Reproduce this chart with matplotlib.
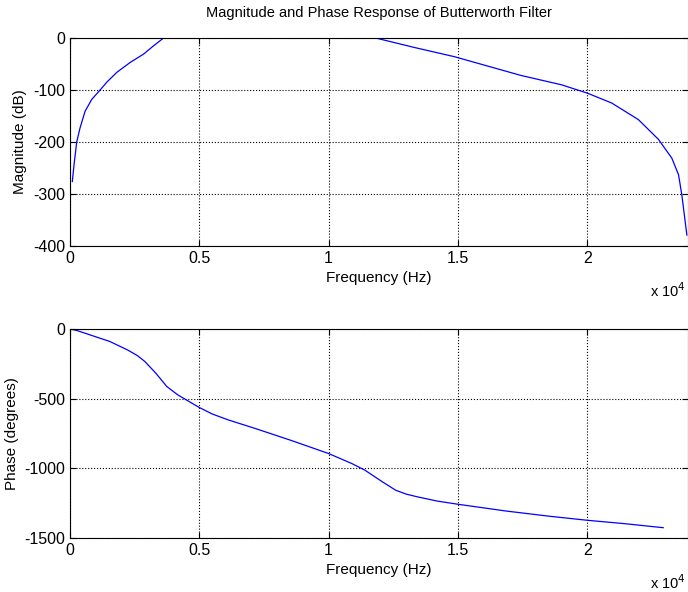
import numpy as np
import matplotlib
matplotlib.use("Agg")
import matplotlib.pyplot as plt
from matplotlib.ticker import FuncFormatter

plt.rcParams['font.family'] = ['Liberation Sans Narrow', 'Liberation Sans', 'DejaVu Sans']
plt.rcParams['axes.unicode_minus'] = False

# magnitude response (Hz, dB), values above 0 get clipped by the axis
mag_freq = [90, 155, 260, 388, 582, 842, 1164, 1423, 1811, 2327, 2844, 3232, 3620, 4200,
            11300, 11820, 13300, 14870, 17440, 19008, 20005, 20948, 21983, 22758,
            23274, 23534, 23662, 23856]
mag_db = [-276, -244, -200, -173, -141, -118, -100, -85, -66, -47, -31, -15, 0, 14,
          8, 0, -18, -36, -72, -90, -106, -125, -157, -195,
          -231, -263, -302, -379]

# phase response (Hz, degrees)
ph_freq = [0, 255, 900, 1532, 2212, 2600, 2893, 3319, 3744, 4170, 4987, 5500, 6127, 7148, 8510,
           9990, 10892, 11403, 12083, 12594, 13000, 13445, 14200, 15010, 16848, 18550,
           20014, 21443, 22941]
ph_deg = [0, -10, -50, -89, -149, -190, -233, -317, -413, -473, -562, -610, -653, -713, -797,
          -893, -965, -1013, -1097, -1157, -1185, -1205, -1235, -1258, -1306, -1344,
          -1373, -1397, -1426]

xticks = [0, 5000, 10000, 15000, 20000]
xfmt = FuncFormatter(lambda v, _: f'{v / 1e4:g}')

fig = plt.figure(figsize=(6.88, 5.92), dpi=100)
ax1 = fig.add_axes([70 / 688, 1 - 246 / 592, 618 / 688, 208 / 592])
ax2 = fig.add_axes([70 / 688, 1 - 538 / 592, 618 / 688, 209 / 592])

ax1.plot(mag_freq, mag_db, color='blue', lw=0.9)
ax1.set_xlim(0, 23900)
ax1.set_ylim(-400, 0)
ax1.set_yticks([0, -100, -200, -300, -400])
ax1.set_title('Magnitude and Phase Response of Butterworth Filter', fontsize=10.5, pad=15)
ax1.set_ylabel('Magnitude (dB)', fontsize=11)

ax2.plot(ph_freq, ph_deg, color='blue', lw=0.9)
ax2.set_xlim(0, 23900)
ax2.set_ylim(-1500, 0)
ax2.set_yticks([0, -500, -1000, -1500])
ax2.set_ylabel('Phase (degrees)', fontsize=11)

for ax in (ax1, ax2):
    ax.set_xticks(xticks)
    ax.xaxis.set_major_formatter(xfmt)
    ax.set_xlabel('Frequency (Hz)', fontsize=11, labelpad=4)
    ax.grid(True, color='black', linestyle=':', linewidth=0.8)
    ax.tick_params(direction='in', labelsize=11.5, length=4, top=True, right=True)
    ax.text(0.938, -0.17, r'x 10$^4$', transform=ax.transAxes, fontsize=10.5,
            ha='left', va='top')

fig.savefig('out.png', dpi=100)
